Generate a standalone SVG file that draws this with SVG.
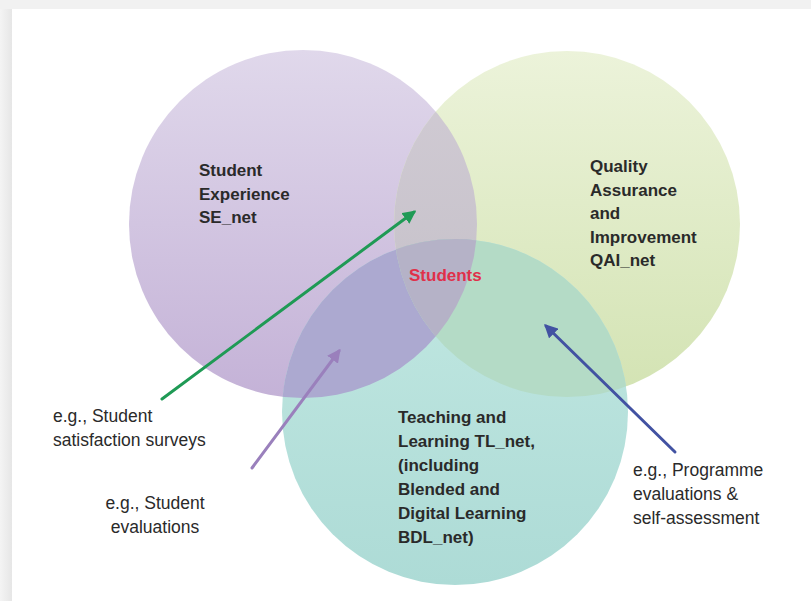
<svg xmlns="http://www.w3.org/2000/svg" width="811" height="601" viewBox="0 0 811 601">
<defs>
<style>
.t{font-family:"Liberation Sans",Arial,sans-serif;font-size:17.5px;fill:#2a2a2a}
.b{font-family:"Liberation Sans",Arial,sans-serif;font-size:17px;font-weight:bold;fill:#2a2a2a}
.red{fill:#e0304a}
.arr{fill:none;stroke-width:3;stroke-linecap:round}
</style>
<linearGradient id="gP" x1="0" y1="0" x2="0" y2="1"><stop offset="0" stop-color="#e0d8eb"/><stop offset="1" stop-color="#c4b2d7"/></linearGradient>
<linearGradient id="gG" x1="0" y1="0" x2="0" y2="1"><stop offset="0" stop-color="#ecf3da"/><stop offset="1" stop-color="#d3e3b3"/></linearGradient>
<linearGradient id="gT" x1="0" y1="0" x2="0" y2="1"><stop offset="0" stop-color="#c2e8e2"/><stop offset="1" stop-color="#addbd6"/></linearGradient>
<linearGradient id="gPG" x1="0" y1="0" x2="0" y2="1"><stop offset="0" stop-color="#d2ccd5"/><stop offset="1" stop-color="#c2bec6"/></linearGradient>
<clipPath id="cP"><circle cx="303" cy="224" r="174"/></clipPath>
<clipPath id="cG"><circle cx="567" cy="224" r="173"/></clipPath>
<clipPath id="cT"><circle cx="455" cy="412" r="173"/></clipPath>
<linearGradient id="shL" x1="0" y1="0" x2="1" y2="0"><stop offset="0" stop-color="#f4f4f4"/><stop offset="1" stop-color="#e6e6e6"/></linearGradient>
<marker id="mGr" viewBox="0 0 10 10" refX="8" refY="5" markerWidth="4.5" markerHeight="4.5" orient="auto"><path d="M0,0 L10,5 L0,10 Z" fill="#1f9a55"/></marker>
<marker id="mPu" viewBox="0 0 10 10" refX="8" refY="5" markerWidth="4.5" markerHeight="4.5" orient="auto"><path d="M0,0 L10,5 L0,10 Z" fill="#9a80bc"/></marker>
<marker id="mBl" viewBox="0 0 10 10" refX="8" refY="5" markerWidth="4.5" markerHeight="4.5" orient="auto"><path d="M0,0 L10,5 L0,10 Z" fill="#4252a2"/></marker>
</defs>
<rect width="811" height="601" fill="#f1f1f1"/>
<rect x="0" y="9" width="12" height="592" fill="url(#shL)"/>
<rect x="12" y="9" width="799" height="592" fill="#ffffff"/>

<g id="node-se">
<circle cx="303" cy="224" r="174" fill="url(#gP)"/>
</g>
<g id="node-qai">
<circle cx="567" cy="224" r="173" fill="url(#gG)"/>
</g>
<g id="node-tl">
<circle cx="455" cy="412" r="173" fill="url(#gT)"/>
</g>
<g id="overlaps">
<circle cx="567" cy="224" r="173" fill="url(#gPG)" clip-path="url(#cP)"/>
<circle cx="455" cy="412" r="173" fill="#aca9d0" clip-path="url(#cP)"/>
<circle cx="455" cy="412" r="173" fill="#b4dbc6" clip-path="url(#cG)"/>
<g clip-path="url(#cP)"><circle cx="455" cy="412" r="173" fill="#b5b2c7" clip-path="url(#cG)"/></g>
</g>

<g id="labels-se">
<text class="b" x="199" y="176">Student</text>
<text class="b" x="199" y="199.5">Experience</text>
<text class="b" x="199" y="223">SE_net</text>
</g>
<g id="labels-qai">
<text class="b" x="590" y="172">Quality</text>
<text class="b" x="590" y="195.5">Assurance</text>
<text class="b" x="590" y="219">and</text>
<text class="b" x="590" y="242.5">Improvement</text>
<text class="b" x="590" y="266">QAI_net</text>
</g>
<g id="node-students">
<text class="b red" x="409" y="281">Students</text>
</g>
<g id="labels-tl">
<text class="b" x="398" y="423">Teaching and</text>
<text class="b" x="398" y="447">Learning TL_net,</text>
<text class="b" x="398" y="471">(including</text>
<text class="b" x="398" y="495">Blended and</text>
<text class="b" x="398" y="519">Digital Learning</text>
<text class="b" x="398" y="543">BDL_net)</text>
</g>

<g id="connectors">
<line class="arr" x1="162" y1="399" x2="414" y2="212" stroke="#1f9a55" marker-end="url(#mGr)"/>
<line class="arr" x1="252" y1="468" x2="339" y2="351" stroke="#9a80bc" marker-end="url(#mPu)"/>
<line class="arr" x1="675" y1="452" x2="546" y2="326" stroke="#4252a2" marker-end="url(#mBl)"/>
</g>

<g id="note-satisfaction">
<text class="t" x="53" y="422">e.g., Student</text>
<text class="t" x="53" y="446">satisfaction surveys</text>
</g>
<g id="note-evaluations">
<text class="t" x="155" y="509" text-anchor="middle">e.g., Student</text>
<text class="t" x="155" y="533" text-anchor="middle">evaluations</text>
</g>
<g id="note-programme">
<text class="t" x="633" y="476">e.g., Programme</text>
<text class="t" x="633" y="500">evaluations &amp;</text>
<text class="t" x="633" y="524">self-assessment</text>
</g>
</svg>
